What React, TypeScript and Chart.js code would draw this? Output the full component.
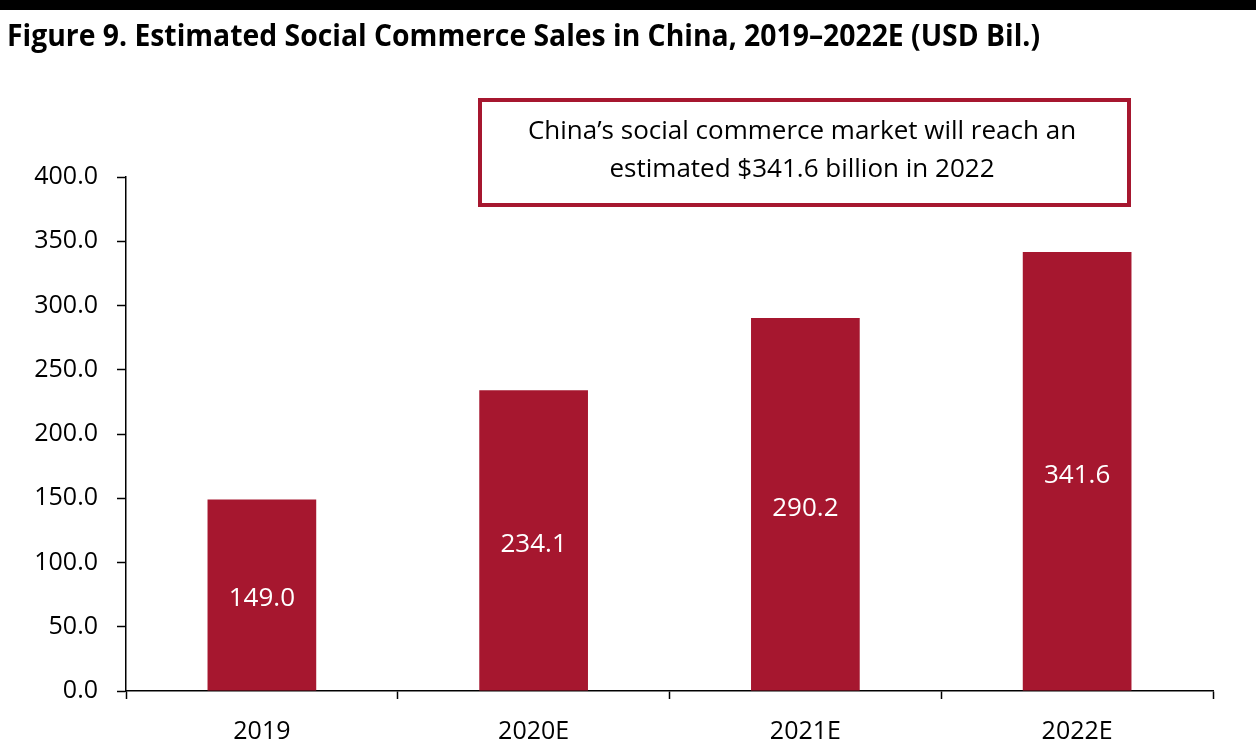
import React, { useEffect, useRef } from "react";
import { Chart, registerables } from "chart.js";

Chart.register(...registerables);

const categories = ["2019", "2020E", "2021E", "2022E"];
const salesValues = [149.0, 234.1, 290.2, 341.6];
const yTickValues = [0, 50, 100, 150, 200, 250, 300, 350, 400];
const titleText = "Figure 9. Estimated Social Commerce Sales in China, 2019\u20132022E (USD Bil.)";
const calloutLines = ["China\u2019s social commerce market will reach an", "estimated $341.6 billion in 2022"];

const BAR_COLOR = "#A6172F";
const FONT = "'Open Sans', 'Noto Sans', sans-serif";

const decorPlugin = {
  id: "decor",
  beforeDraw(chart: any) {
    const ctx = chart.ctx;
    ctx.save();
    ctx.fillStyle = "#fff";
    ctx.fillRect(0, 0, chart.width, chart.height);
    ctx.fillStyle = "#000";
    ctx.fillRect(0, 0, chart.width, 10);
    ctx.font = `bold 31px ${FONT}`;
    ctx.textAlign = "left";
    ctx.textBaseline = "alphabetic";
    ctx.fillText(titleText, 7, 46, 1033);
    ctx.restore();
  },
  afterDraw(chart: any) {
    const ctx = chart.ctx;
    ctx.save();
    ctx.strokeStyle = BAR_COLOR;
    ctx.lineWidth = 4;
    ctx.strokeRect(480, 100, 649, 105);
    ctx.fillStyle = "#000";
    ctx.font = `26px ${FONT}`;
    ctx.textAlign = "center";
    ctx.textBaseline = "middle";
    ctx.fillText(calloutLines[0], 802, 132, 556);
    ctx.fillText(calloutLines[1], 802, 170, 556);
    ctx.restore();
  },
  afterDatasetsDraw(chart: any) {
    const ctx = chart.ctx;
    const meta = chart.getDatasetMeta(0);
    ctx.save();
    ctx.fillStyle = "#fff";
    ctx.font = `26px ${FONT}`;
    ctx.textAlign = "center";
    ctx.textBaseline = "middle";
    meta.data.forEach((bar: any, i: number) => {
      const v = chart.data.datasets[0].data[i] as number;
      ctx.fillText(v.toFixed(1), bar.x, (bar.y + bar.base) / 2 + 4);
    });
    ctx.restore();
  },
};

export default function App() {
  const ref = useRef<HTMLCanvasElement | null>(null);
  useEffect(() => {
    if (!ref.current) return;
    const chart = new Chart(ref.current, {
      type: "bar",
      data: {
        labels: categories,
        datasets: [
          {
            data: salesValues,
            backgroundColor: BAR_COLOR,
            borderWidth: 0,
            barPercentage: 0.4,
            categoryPercentage: 1,
          },
        ],
      },
      options: {
        responsive: false,
        animation: false,
        devicePixelRatio: 1,
        layout: { padding: { top: 177, right: 43, left: 0, bottom: 0 } },
        plugins: {
          legend: { display: false },
          title: { display: false },
          tooltip: { enabled: false },
        },
        scales: {
          x: {
            offset: true,
            afterFit(scale: any) {
              scale.height = 61;
            },
            grid: {
              offset: true,
              drawOnChartArea: false,
              drawTicks: true,
              tickLength: 8,
              tickColor: "#000",
              tickWidth: 1.5,
            },
            border: { display: true, color: "#000", width: 1.5 },
            ticks: {
              color: "#000",
              font: { family: FONT, size: 25 },
              padding: 18,
              maxRotation: 0,
            },
          },
          y: {
            min: 0,
            max: 400,
            afterFit(scale: any) {
              scale.width = 126;
            },
            afterBuildTicks(scale: any) {
              scale.ticks = yTickValues.map((v) => ({ value: v }));
            },
            grid: {
              drawOnChartArea: false,
              drawTicks: true,
              tickLength: 9,
              tickColor: "#000",
              tickWidth: 1.5,
            },
            border: { display: true, color: "#000", width: 1.5 },
            ticks: {
              color: "#000",
              font: { family: FONT, size: 25 },
              padding: 19,
              callback: (v: any) => Number(v).toFixed(1),
            },
          },
        },
      },
      plugins: [decorPlugin],
    });
    return () => chart.destroy();
  }, []);
  return (
    <div style={{ position: "absolute", left: 0, top: 0, width: 1256, height: 752, background: "#fff" }}>
      <canvas ref={ref} width={1256} height={752} style={{ display: "block" }} />
    </div>
  );
}
